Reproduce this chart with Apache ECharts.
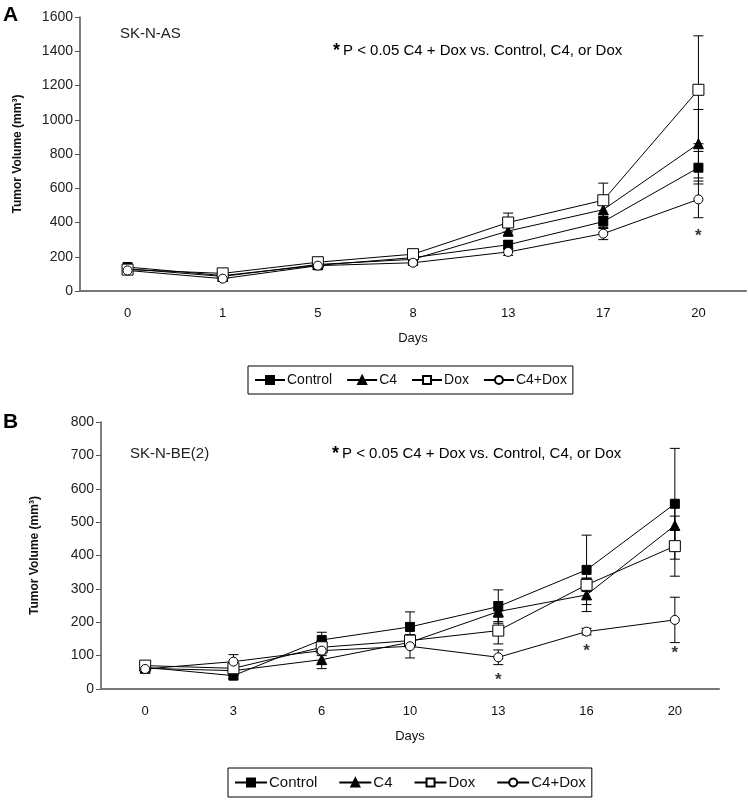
<!DOCTYPE html>
<html>
<head>
<meta charset="utf-8">
<script src="https://cdn.jsdelivr.net/npm/echarts@6/dist/echarts.min.js"></script>
<style>
  html, body { margin: 0; padding: 0; background: #fff; }
  #chart { width: 748px; height: 801px; }
</style>
</head>
<body>
<div id="chart"></div>
<script>
// panel A - SK-N-AS
var daysA = ["0", "1", "5", "8", "13", "17", "20"];
var controlA = [140, 90, 150, 195, 270, 405, 720];
var c4A = [130, 85, 155, 185, 350, 475, 860];
var doxA = [125, 103, 168, 215, 400, 530, 1175];
var c4doxA = [120, 72, 148, 165, 228, 335, 535];
var controlErrA = [10, 10, 10, 15, 25, 40, 95];
var c4ErrA = [10, 10, 10, 15, 30, 40, 200];
var doxErrA = [10, 10, 15, 15, 55, 100, 315];
var c4doxErrA = [10, 10, 10, 15, 20, 35, 107];
var sigA = [["20", 322]];

// panel B - SK-N-BE(2)
var daysB = ["0", "3", "6", "10", "13", "16", "20"];
var controlB = [65, 40, 147, 186, 247, 357, 555];
var c4B = [62, 55, 88, 140, 232, 282, 490];
var doxB = [70, 62, 125, 145, 175, 312, 428];
var c4doxB = [60, 82, 115, 128, 95, 172, 207];
var controlErrB = [5, 10, 23, 45, 50, 104, 166];
var c4ErrB = [5, 8, 27, 15, 30, 50, 54];
var doxErrB = [5, 10, 20, 15, 40, 20, 90];
var c4doxErrB = [5, 21, 15, 35, 22, 10, 68];
var sigB = [["13", 27], ["16", 112], ["20", 106]];

var names = ["Control", "C4", "Dox", "C4+Dox"];
var narrow = "'Liberation Sans Narrow', 'Arial Narrow', 'Liberation Sans', Arial, sans-serif";
var sans = "'Liberation Sans', Arial, sans-serif";

var markers = {
  "Control": { symbol: "rect", size: 9, fill: "#000" },
  "C4": { symbol: "triangle", size: 10, fill: "#000" },
  "Dox": { symbol: "rect", size: 11, fill: "#fff" },
  "C4+Dox": { symbol: "circle", size: 9, fill: "#fff" }
};

function errorBars(idx, vals, errs) {
  return {
    type: "custom",
    xAxisIndex: idx,
    yAxisIndex: idx,
    silent: true,
    z: 1,
    data: vals.map(function (v, i) { return [i, v - errs[i], v + errs[i]]; }),
    renderItem: function (params, api) {
      var lo = api.coord([api.value(0), api.value(1)]);
      var hi = api.coord([api.value(0), api.value(2)]);
      var w = 5;
      var st = { stroke: "#000", lineWidth: 1 };
      return {
        type: "group",
        children: [
          { type: "line", shape: { x1: hi[0], y1: hi[1], x2: lo[0], y2: lo[1] }, style: st },
          { type: "line", shape: { x1: hi[0] - w, y1: hi[1], x2: hi[0] + w, y2: hi[1] }, style: st },
          { type: "line", shape: { x1: lo[0] - w, y1: lo[1], x2: lo[0] + w, y2: lo[1] }, style: st }
        ]
      };
    }
  };
}

function lineSeries(idx, name, vals) {
  var m = markers[name];
  return {
    type: "line",
    name: name,
    xAxisIndex: idx,
    yAxisIndex: idx,
    data: vals,
    symbol: m.symbol,
    symbolSize: m.size,
    showAllSymbol: true,
    z: 3,
    lineStyle: { color: "#000", width: 1 },
    itemStyle: { color: m.fill, borderColor: "#000", borderWidth: 1 },
    emphasis: { disabled: true }
  };
}

function sigSeries(idx, pts) {
  return {
    type: "scatter",
    xAxisIndex: idx,
    yAxisIndex: idx,
    symbolSize: 1,
    itemStyle: { color: "transparent" },
    silent: true,
    data: pts,
    label: {
      show: true,
      position: "inside",
      formatter: "*",
      color: "#000",
      fontSize: 17,
      fontWeight: "bold",
      fontFamily: sans
    }
  };
}

var seriesA = [[controlA, controlErrA], [c4A, c4ErrA], [doxA, doxErrA], [c4doxA, c4doxErrA]];
var seriesB = [[controlB, controlErrB], [c4B, c4ErrB], [doxB, doxErrB], [c4doxB, c4doxErrB]];

var series = [];
[seriesA, seriesB].forEach(function (group, idx) {
  group.forEach(function (s) { series.push(errorBars(idx, s[0], s[1])); });
  group.forEach(function (s, k) { series.push(lineSeries(idx, names[k], s[0])); });
});
series.push(sigSeries(0, sigA));
series.push(sigSeries(1, sigB));

function xAxis(idx, cats) {
  return {
    type: "category",
    gridIndex: idx,
    data: cats,
    name: "Days",
    nameLocation: "middle",
    nameGap: 41,
    nameTextStyle: { fontFamily: narrow, fontSize: 13, color: "#111" },
    axisLine: { lineStyle: { color: "#777", width: 2 } },
    axisTick: { show: false },
    axisLabel: { fontFamily: narrow, fontSize: 13, color: "#111", margin: 16 }
  };
}

function yAxis(idx, max, step, gap) {
  return {
    type: "value",
    gridIndex: idx,
    min: 0,
    max: max,
    interval: step,
    name: "Tumor Volume (mm³)",
    nameLocation: "middle",
    nameRotate: 90,
    nameGap: gap,
    nameTextStyle: { fontFamily: sans, fontSize: 12, fontWeight: "bold", color: "#111" },
    splitLine: { show: false },
    axisLine: { show: true, lineStyle: { color: "#555", width: 1.5 } },
    axisTick: { show: true, inside: false, length: 5, lineStyle: { color: "#555" } },
    axisLabel: {
      fontFamily: sans, fontSize: 14, color: "#222", margin: 7,
      formatter: function (v) { return String(v); }
    }
  };
}

function legend(top, left, iw, gap, fs) {
  return {
    data: names,
    top: top,
    left: left,
    orient: "horizontal",
    itemWidth: iw,
    itemHeight: 10,
    itemGap: gap,
    padding: [7, 6, 7, 6],
    borderColor: "#000",
    borderWidth: 1,
    selectedMode: false,
    textStyle: { fontFamily: narrow, fontSize: fs, color: "#111", padding: [0, 0, 0, -3] }
  };
}

var pRich = {
  s: { fontSize: 18, fontWeight: "bold", fontFamily: sans, padding: [0, 3, 0, 0] },
  t: { fontSize: 15, fontFamily: sans, color: "#222" }
};
var pLine = "{s|*}{t|P < 0.05 C4 + Dox vs. Control, C4, or Dox}";

var chart = echarts.init(document.getElementById("chart"));
chart.setOption({
  animation: false,
  backgroundColor: "#fff",
  grid: [
    { left: 80, right: 2, top: 17, bottom: 510 },
    { left: 101, right: 29, top: 422, bottom: 112 }
  ],
  xAxis: [xAxis(0, daysA), xAxis(1, daysB)],
  yAxis: [yAxis(0, 1600, 200, 56), yAxis(1, 800, 100, 60)],
  legend: [legend(366, 248, 30, 14, 14), legend(768, 228, 32, 21, 15)],
  graphic: [
    { type: "text", left: 3, top: 5, style: { text: "A", fontSize: 21, fontWeight: "bold", fontFamily: sans, fill: "#000" } },
    { type: "text", left: 3, top: 412, style: { text: "B", fontSize: 21, fontWeight: "bold", fontFamily: sans, fill: "#000" } },
    { type: "text", left: 120, top: 26, style: { text: "SK-N-AS", fontSize: 15, fontFamily: sans, fill: "#222" } },
    { type: "text", left: 130, top: 446, style: { text: "SK-N-BE(2)", fontSize: 15, fontFamily: sans, fill: "#222" } },
    { type: "text", left: 333, top: 42, style: { text: pLine, rich: pRich } },
    { type: "text", left: 332, top: 445, style: { text: pLine, rich: pRich } }
  ],
  series: series
});
</script>
</body>
</html>
